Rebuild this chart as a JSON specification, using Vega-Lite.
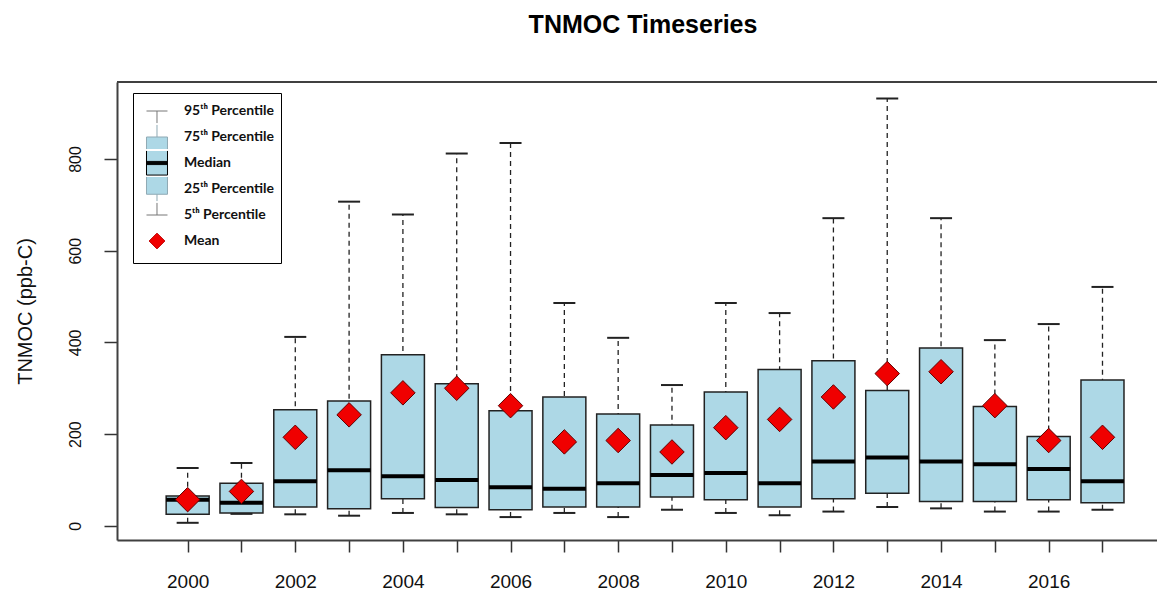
{
  "$schema": "https://vega.github.io/schema/vega-lite/v6.json",
  "width": 1040,
  "height": 458,
  "autosize": {"type": "none"},
  "padding": {"left": 117, "top": 82, "right": 0, "bottom": 50},
  "background": "white",
  "title": {"text": "TNMOC Timeseries", "font": "Liberation Sans", "fontSize": 25, "fontWeight": "bold", "anchor": "middle", "dx": 6, "baseline": "alphabetic", "offset": 23, "color": "#000"},
  "config": {
    "view": {"stroke": null},
    "legend": {"orient": "none", "legendX": 16, "legendY": 11,
      "strokeColor": "#000", "fillColor": "#fff", "padding": 7, "symbolSize": 441, "rowPadding": -15,
      "symbolStrokeWidth": 1, "symbolFillColor": "transparent", "labelOffset": 22,
      "labelFont": "Lato", "labelFontWeight": "bold", "labelFontSize": 14, "labelColor": "#111"}
  },
  "data": {"values": [
    {"year": 2000, "p5": 6.5, "q25": 25, "median": 57, "q75": 65, "p95": 126, "mean": 57},
    {"year": 2001, "p5": 26, "q25": 28, "median": 50, "q75": 93, "p95": 137, "mean": 75},
    {"year": 2002, "p5": 25, "q25": 41, "median": 97, "q75": 253, "p95": 412, "mean": 193},
    {"year": 2003, "p5": 22, "q25": 37, "median": 121, "q75": 272, "p95": 707, "mean": 242},
    {"year": 2004, "p5": 28, "q25": 59, "median": 108, "q75": 373, "p95": 679, "mean": 290},
    {"year": 2005, "p5": 25, "q25": 40, "median": 100, "q75": 310, "p95": 812, "mean": 300},
    {"year": 2006, "p5": 19, "q25": 35, "median": 84, "q75": 251, "p95": 835, "mean": 262},
    {"year": 2007, "p5": 28, "q25": 41, "median": 81, "q75": 281, "p95": 486, "mean": 183},
    {"year": 2008, "p5": 19, "q25": 41, "median": 93, "q75": 244, "p95": 410, "mean": 186},
    {"year": 2009, "p5": 35, "q25": 63, "median": 111, "q75": 220, "p95": 307, "mean": 161},
    {"year": 2010, "p5": 28, "q25": 57, "median": 115, "q75": 292, "p95": 486, "mean": 214},
    {"year": 2011, "p5": 23, "q25": 41, "median": 93, "q75": 341, "p95": 464, "mean": 232},
    {"year": 2012, "p5": 31, "q25": 59, "median": 140, "q75": 360, "p95": 671, "mean": 281},
    {"year": 2013, "p5": 41, "q25": 71, "median": 149, "q75": 295, "p95": 932, "mean": 332},
    {"year": 2014, "p5": 38, "q25": 53, "median": 140, "q75": 388, "p95": 671, "mean": 336},
    {"year": 2015, "p5": 31, "q25": 53, "median": 134, "q75": 260, "p95": 405, "mean": 262},
    {"year": 2016, "p5": 31, "q25": 57, "median": 124, "q75": 195, "p95": 440, "mean": 186},
    {"year": 2017, "p5": 35, "q25": 50, "median": 97, "q75": 318, "p95": 521, "mean": 193}
  ]},
  "encoding": {
    "x": {"field": "year", "type": "quantitative",
      "scale": {"domain": [1998.78, 2017.92], "nice": false, "zero": false},
      "axis": {"title": null, "values": [2000,2001,2002,2003,2004,2005,2006,2007,2008,2009,2010,2011,2012,2013,2014,2015,2016,2017],
        "format": "d", "labelExpr": "datum.value % 2 == 0 ? datum.label : ''",
        "grid": false, "tickSize": 12, "tickColor": "#333", "tickWidth": 1.5,
        "domainColor": "#404040", "domainWidth": 2, "labelFont": "Liberation Sans", "labelFontSize": 19,
        "labelColor": "#111", "labelPadding": 20, "labelFlush": false, "labelOverlap": false}}
  },
  "layer": [
    {"mark": {"type": "rule", "strokeDash": [5, 4], "color": "#222", "strokeWidth": 1.3},
     "encoding": {
       "y": {"field": "p5", "type": "quantitative",
         "scale": {"domain": [-31, 968], "nice": false, "zero": false},
         "axis": {"title": "TNMOC (ppb-C)", "values": [0, 200, 400, 600, 800], "grid": false,
           "tickSize": 13, "tickColor": "#333", "tickWidth": 1.5, "domainColor": "#404040", "domainWidth": 2,
           "labelAngle": -90, "labelAlign": "center", "labelBaseline": "bottom",
           "labelFont": "Liberation Sans", "labelFontSize": 16, "labelColor": "#111", "labelPadding": 21,
           "titleFont": "Liberation Sans", "titleFontSize": 20, "titleFontWeight": "normal", "titleColor": "#111", "titlePadding": 32}},
       "y2": {"field": "p95"}}},
    {"mark": {"type": "bar", "width": 43, "fill": "#add8e6", "stroke": "#222", "strokeWidth": 1.5},
     "encoding": {"y": {"field": "q25", "type": "quantitative"}, "y2": {"field": "q75"}}},
    {"mark": {"type": "tick", "orient": "horizontal", "size": 22, "thickness": 2, "color": "#222", "opacity": 1},
     "encoding": {"y": {"field": "p95", "type": "quantitative"}}},
    {"mark": {"type": "tick", "orient": "horizontal", "size": 22, "thickness": 2, "color": "#222", "opacity": 1},
     "encoding": {"y": {"field": "p5", "type": "quantitative"}}},
    {"mark": {"type": "tick", "orient": "horizontal", "size": 43, "thickness": 4, "color": "#000", "opacity": 1},
     "encoding": {"y": {"field": "median", "type": "quantitative"}}},
    {"mark": {"type": "point", "shape": "diamond", "size": 600, "filled": true, "fill": "#f00000", "stroke": "#600000", "strokeWidth": 1, "opacity": 1},
     "encoding": {"y": {"field": "mean", "type": "quantitative"}}},
    {"data": {"values": [{"top": 968}]},
     "mark": {"type": "rule", "color": "#404040", "strokeWidth": 2},
     "encoding": {"y": {"field": "top", "type": "quantitative"}, "x": null}},
    {"data": {"values": [{"key": "p95"}, {"key": "q75"}, {"key": "med"}, {"key": "q25"}, {"key": "p5"}, {"key": "mean"}]},
     "mark": {"type": "point", "filled": true, "opacity": 0},
     "encoding": {
       "x": null,
       "shape": {"field": "key", "type": "nominal",
         "scale": {"domain": ["p95", "q75", "med", "q25", "p5", "mean"],
           "range": [
             "M-0.43,-1.15M1.57,1.15M-0.43,0H1.57M0.57,0V1.15",
             "M-0.43,-1.15M1.57,1.15M0.57,-1.15V0M-0.43,1.15V0H1.57V1.15",
             "M-0.43,-1.15M1.57,1.15M1.57,-1.15V1.15H-0.43V-1.15M-0.43,-0.15H1.57M-0.43,-0.05H1.57M-0.43,0.05H1.57M-0.43,0.15H1.57",
             "M-0.43,-1.15M1.57,1.15M-0.43,-1.15V0.5H1.57V-1.15M0.57,0.5V1.15",
             "M-0.43,-1.15M1.57,1.15M0.57,-1.15V0M-0.43,0H1.57",
             "M-0.43,-1.15M1.57,1.15M0.57,-0.75L1.32,0L0.57,0.75L-0.18,0Z"]},
         "legend": {"title": null,
           "labelExpr": "datum.value == 'p95' ? '95ᵗʰ Percentile' : datum.value == 'q75' ? '75ᵗʰ Percentile' : datum.value == 'med' ? 'Median' : datum.value == 'q25' ? '25ᵗʰ Percentile' : datum.value == 'p5' ? '5ᵗʰ Percentile' : 'Mean'"}},
       "color": {"field": "key", "type": "nominal",
         "scale": {"domain": ["p95", "q75", "med", "q25", "p5", "mean"],
           "range": ["transparent", "#add8e6", "#add8e6", "#add8e6", "transparent", "#f00000"]},
         "legend": {"title": null,
           "labelExpr": "datum.value == 'p95' ? '95ᵗʰ Percentile' : datum.value == 'q75' ? '75ᵗʰ Percentile' : datum.value == 'med' ? 'Median' : datum.value == 'q25' ? '25ᵗʰ Percentile' : datum.value == 'p5' ? '5ᵗʰ Percentile' : 'Mean'"}},
       "stroke": {"field": "key", "type": "nominal",
         "scale": {"domain": ["p95", "q75", "med", "q25", "p5", "mean"],
           "range": ["#777777", "#8fa9b4", "#000000", "#8fa9b4", "#777777", "#c00000"]},
         "legend": {"title": null,
           "labelExpr": "datum.value == 'p95' ? '95ᵗʰ Percentile' : datum.value == 'q75' ? '75ᵗʰ Percentile' : datum.value == 'med' ? 'Median' : datum.value == 'q25' ? '25ᵗʰ Percentile' : datum.value == 'p5' ? '5ᵗʰ Percentile' : 'Mean'"}}
     }}
  ]
}
